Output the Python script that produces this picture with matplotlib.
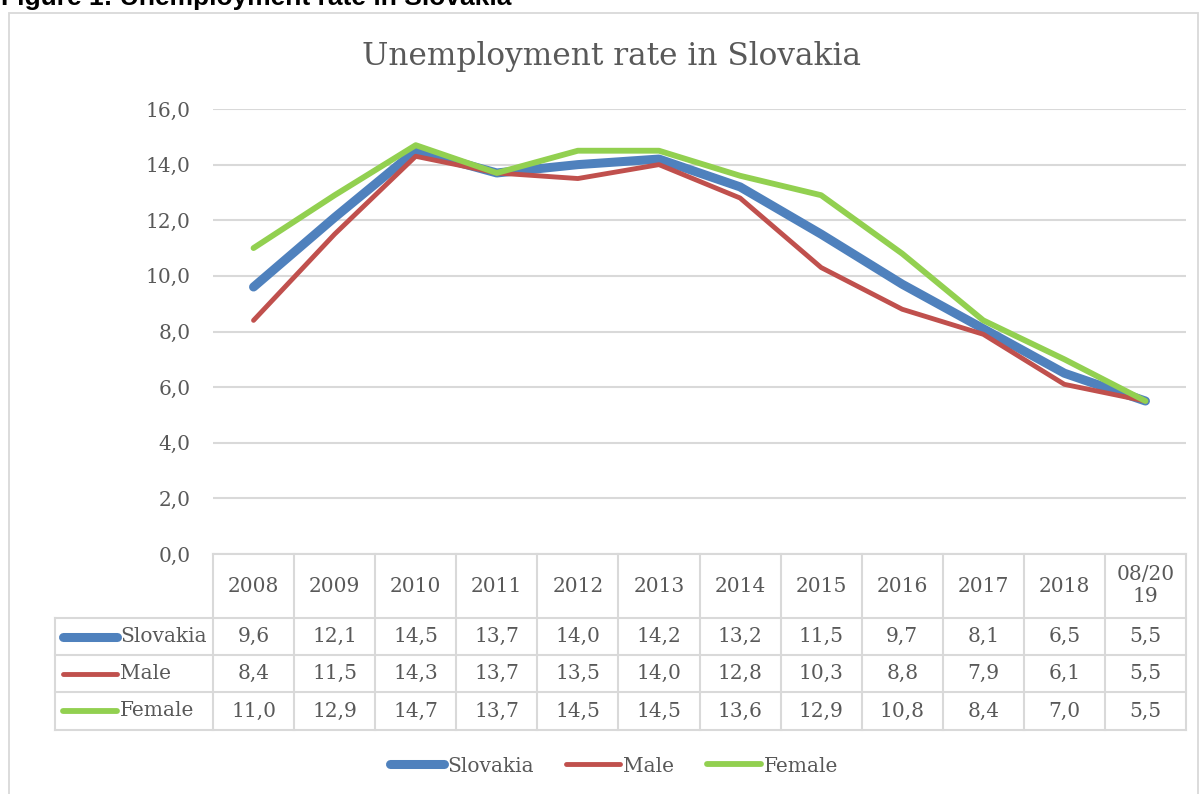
import matplotlib.pyplot as plt
from matplotlib.lines import Line2D
from matplotlib.patches import Rectangle
from matplotlib.transforms import blended_transform_factory

# Unemployment rate in Slovakia (%), 2008 - 08/2019
years = ['2008', '2009', '2010', '2011', '2012', '2013', '2014', '2015',
         '2016', '2017', '2018', '08/20\n19']
slovakia = [9.6, 12.1, 14.5, 13.7, 14.0, 14.2, 13.2, 11.5, 9.7, 8.1, 6.5, 5.5]
male = [8.4, 11.5, 14.3, 13.7, 13.5, 14.0, 12.8, 10.3, 8.8, 7.9, 6.1, 5.5]
female = [11.0, 12.9, 14.7, 13.7, 14.5, 14.5, 13.6, 12.9, 10.8, 8.4, 7.0, 5.5]

series = [('Slovakia', slovakia, '#4F81BD', 6.5),
          ('Male', male, '#C0504D', 3.5),
          ('Female', female, '#92D050', 4.2)]

W, H = 1200, 794
TXT = '#595959'
GRID = '#D9D9D9'
FONT = 'DejaVu Serif'

plt.rcParams['font.family'] = FONT

fig = plt.figure(figsize=(W / 100, H / 100), dpi=100)


def fx(px):
    return px / W


def fy(py):
    return 1 - py / H


# chart frame and caption above it
fig.patches.append(Rectangle((fx(9), fy(810)), fx(1198) - fx(9), fy(13) - fy(810),
                             transform=fig.transFigure, fill=False,
                             edgecolor=GRID, linewidth=1.3))
fig.text(fx(1), fy(5), 'Figure 1: Unemployment rate in Slovakia',
         family='Liberation Sans', weight='bold', fontsize=19,
         color='black', ha='left', va='baseline')

left, right, top, bottom = 213, 1186, 109, 554
ax = fig.add_axes([fx(left), fy(bottom), fx(right) - fx(left), fy(top) - fy(bottom)])

x = list(range(len(years)))
for name, vals, color, lw in series:
    ax.plot(x, vals, color=color, linewidth=lw, solid_capstyle='round',
            solid_joinstyle='round', label=name, zorder=3)

ax.set_xlim(-0.5, len(years) - 0.5)
ax.set_ylim(0, 16)
ax.set_yticks([0, 2, 4, 6, 8, 10, 12, 14, 16])
ax.set_yticklabels([f'{v:.1f}'.replace('.', ',') for v in ax.get_yticks()],
                   fontsize=14.5, color=TXT)
ax.set_xticks([])
ax.tick_params(axis='y', length=0, pad=16)
ax.grid(axis='y', color=GRID, linewidth=1.5)
ax.set_axisbelow(True)
for s in ax.spines.values():
    s.set_visible(False)

fig.text(fx(611), fy(57), 'Unemployment rate in Slovakia', fontsize=22.5,
         color=TXT, ha='center', va='center')

# data table under the plot
tr = blended_transform_factory(ax.transData, fig.transFigure)
rows_y = [554, 618, 655, 692, 730]
tab_left = 55
lk = dict(color=GRID, linewidth=1.5, transform=fig.transFigure, clip_on=False)

fig.add_artist(Line2D([fx(left), fx(right)], [fy(rows_y[0])] * 2, **lk))
for ry in rows_y[1:]:
    fig.add_artist(Line2D([fx(tab_left), fx(right)], [fy(ry)] * 2, **lk))
for i in range(len(years) + 1):
    xb = ax.transData.transform((i - 0.5, 0))[0] / W
    fig.add_artist(Line2D([xb, xb], [fy(rows_y[0]), fy(rows_y[-1])], **lk))
fig.add_artist(Line2D([fx(tab_left)] * 2, [fy(rows_y[1]), fy(rows_y[-1])], **lk))

head_y = fy((rows_y[0] + rows_y[1]) / 2)
for i, yr in enumerate(years):
    fig.text(i, head_y, yr, transform=tr, ha='center', va='center',
             fontsize=14.5, color=TXT, linespacing=1.2)

for r, (name, vals, color, lw) in enumerate(series):
    cy = fy((rows_y[r + 1] + rows_y[r + 2]) / 2)
    fig.add_artist(Line2D([fx(63), fx(117)], [cy, cy], color=color, linewidth=lw,
                          solid_capstyle='round', transform=fig.transFigure))
    fig.text(fx(120), cy, name, ha='left', va='center', fontsize=14.5, color=TXT)
    for i, v in enumerate(vals):
        fig.text(i, cy, f'{v:.1f}'.replace('.', ','), transform=tr,
                 ha='center', va='center', fontsize=14.5, color=TXT)

handles, labels = ax.get_legend_handles_labels()
leg = fig.legend(handles, labels, loc='center', bbox_to_anchor=(fx(614), fy(766)),
                 ncol=3, frameon=False, fontsize=14.5, handlelength=2.7,
                 handletextpad=0.15, columnspacing=1.6)
for t in leg.get_texts():
    t.set_color(TXT)
for h in leg.get_lines():
    h.set_solid_capstyle('round')

fig.savefig('out.png', dpi=100)
